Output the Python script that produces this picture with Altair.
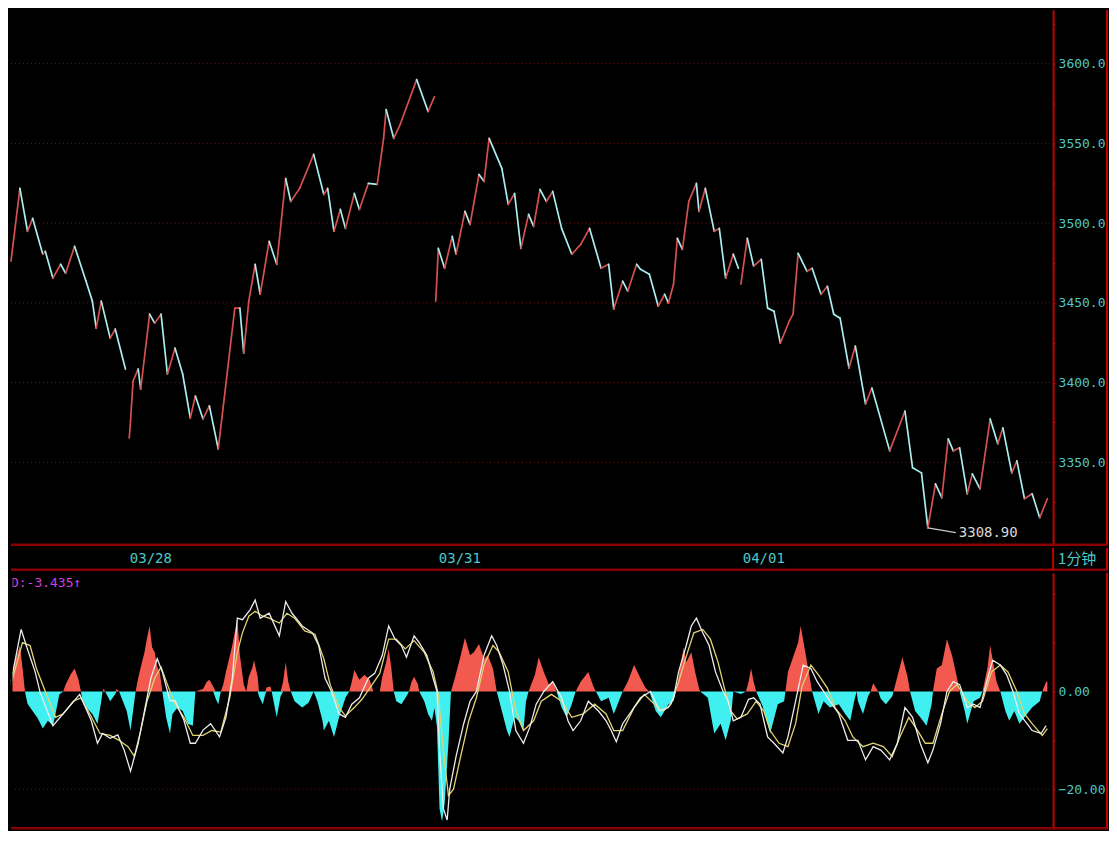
import altair as alt
import pandas as pd

# ---------------- price line (1-minute closes, read at turning points) ----------------
day_names = ["03/27", "03/28", "03/31", "04/01"]

d1_t = [0, 7, 13, 17, 25, 27, 33, 39, 43, 50, 59, 64, 67, 71, 78, 82, 90]
d1_p = [3476.1, 3521.8, 3494.9, 3503.0, 3480.5, 3482.3, 3465.5, 3474.2, 3468.6, 3485.5,
        3463.6, 3451.1, 3434.2, 3451.1, 3427.9, 3433.5, 3408.5]

d2_t = [93, 94, 96, 100, 102, 109, 113, 118, 123, 129, 135, 141, 145, 151, 156, 163, 176,
        180, 183, 187, 192, 196, 203, 209, 216, 220, 227, 238, 246, 249, 254, 259, 263, 270,
        274, 281, 288, 293, 295, 301, 306, 319, 328, 333]
d2_p = [3365.3, 3376.0, 3401.0, 3408.5, 3396.0, 3442.9, 3437.3, 3442.9, 3405.4, 3421.6,
        3405.4, 3377.8, 3391.6, 3377.2, 3385.4, 3358.4, 3446.7, 3446.7, 3418.5, 3451.1,
        3474.2, 3455.4, 3488.6, 3474.2, 3528.0, 3513.6, 3521.8, 3543.1, 3518.0, 3521.8,
        3494.9, 3508.6, 3496.7, 3518.6, 3508.6, 3524.9, 3524.3, 3553.1, 3571.2, 3553.1,
        3561.8, 3590.0, 3570.0, 3579.3]

d3_t = [334, 335, 336, 341, 347, 350, 357, 361, 368, 372, 376, 386, 391, 396, 401, 407, 411,
        416, 421, 426, 433, 441, 448, 455, 464, 470, 474, 481, 485, 492, 495, 502, 509, 514,
        517, 521, 524, 528, 533, 539, 541, 546, 553, 557, 562, 568, 572]
d3_p = [3451.1, 3466.7, 3484.2, 3471.7, 3491.7, 3480.5, 3507.4, 3499.2, 3530.5, 3526.2,
        3553.1, 3534.3, 3511.8, 3518.6, 3484.2, 3505.5, 3498.0, 3521.1, 3513.6, 3519.9,
        3496.7, 3480.5, 3486.7, 3496.7, 3471.7, 3474.2, 3446.1, 3463.6, 3457.3, 3474.2,
        3471.1, 3468.0, 3447.9, 3455.4, 3449.8, 3461.7, 3490.5, 3483.6, 3513.6, 3524.9,
        3507.4, 3521.8, 3494.9, 3496.7, 3465.5, 3480.5, 3471.7]

d4_t = [574, 579, 584, 590, 595, 600, 605, 612, 615, 619, 626, 630, 637, 642, 647, 652, 659,
        664, 672, 677, 691, 703, 709, 716, 721, 727, 732, 737, 741, 746, 752, 756, 762, 770,
        776, 780, 787, 791, 797, 803, 809, 815]
d4_p = [3461.7, 3490.5, 3473.0, 3477.3, 3446.7, 3444.8, 3424.8, 3438.5, 3442.9, 3481.1,
        3469.8, 3471.7, 3455.4, 3460.4, 3442.9, 3440.4, 3409.1, 3422.9, 3386.6, 3396.6,
        3357.2, 3382.2, 3346.6, 3343.4, 3308.9, 3336.5, 3327.8, 3364.7, 3357.2, 3359.1,
        3330.3, 3342.8, 3333.4, 3377.2, 3361.6, 3371.6, 3343.4, 3350.9, 3327.2, 3330.3,
        3315.3, 3327.2]

price_levels = [3350, 3400, 3450, 3500, 3550, 3600]
date_labels = ["03/28", "03/31", "04/01"]
date_label_t = [110, 353, 592]

# ---------------- MACD panel ----------------
hist_t = [0, 3, 7, 9, 11, 13, 17, 21, 25, 29, 33, 35, 38, 41, 43, 47, 50, 53, 55, 56, 60, 64,
          68, 71, 72, 73, 74, 76, 78, 82, 83, 85, 88, 91, 94, 96, 98, 100, 103, 105, 107, 109,
          111, 113, 115, 117, 119, 122, 125, 127, 131, 135, 139, 143, 145, 151, 154, 156, 159,
          161, 163, 165, 167, 169, 174, 178, 180, 183, 185, 187, 190, 191, 194, 195, 198, 200,
          201, 204, 205, 208, 209, 212, 214, 216, 218, 220, 223, 229, 234, 238, 241, 245, 246,
          250, 254, 258, 263, 266, 268, 270, 274, 278, 282, 285, 290, 292, 295, 297, 299, 301,
          303, 307, 311, 313, 315, 317, 320, 321, 325, 328, 331, 333, 335, 337, 339, 341, 344,
          346, 349, 353, 357, 361, 364, 368, 372, 375, 379, 382, 386, 390, 392, 396, 399, 403,
          405, 407, 412, 415, 419, 423, 426, 429, 433, 437, 441, 444, 448, 454, 458, 460, 464,
          470, 474, 478, 481, 485, 490, 495, 499, 502, 507, 511, 517, 521, 523, 525, 529, 531,
          535, 538, 541, 542, 548, 553, 558, 562, 566, 568, 574, 578, 580, 582, 584, 586, 591,
          595, 597, 603, 608, 609, 611, 615, 619, 621, 626, 630, 635, 639, 644, 651, 656, 660,
          663, 665, 666, 670, 674, 676, 678, 682, 684, 688, 693, 694, 697, 701, 705, 707, 711,
          715, 720, 724, 725, 728, 732, 736, 740, 744, 746, 750, 752, 757, 762, 764, 768, 770,
          775, 778, 782, 785, 789, 793, 799, 803, 809, 811, 814, 815]
hist_v = [2, 6, 9.4, 5, 0, -2.5, -4, -5.5, -7.6, -6, -7, -4.6, -0.6, 0, 1.4, 3.5, 4.7, 2.5, 0,
          -1.5, -3.5, -4.6, -6.6, -2, 0, 0.6, 0, -1, -2, -0.5, 0.5, 0, -2, -4, -8, -4, 0, 2.7,
          6, 8, 11, 13.4, 9, 8, 5, 4, 0, -5.3, -8.6, -4.6, -3.3, -4, -6.6, -7, 0, 0.5, 2, 2.4,
          1, -1.5, -2.6, 0, 1.5, 4, 9.4, 15, 7.4, 1.5, 0, 3, 5, 6.4, 3, -1, -2.6, -0.5, 0.8,
          1, 0, -4, -5.3, -1, 2, 6, 2, 0, -2, -3.3, -2.3, 0, -2, -6, -8, -6, -9.3, -5.3, -1.3,
          0, 2, 4.4, 2.4, 3.4, 2.4, 0, 0, 3, 6, 8.7, 5, 0, -2, -2.6, -1, 0, 2, 3, 1.5, 0, -2,
          -4.6, -6, -3.4, -7.3, -24, -26.6, -23, -10.6, 0, 2.7, 6.7, 11, 7.4, 8, 9.7, 6.7, 7.4,
          4.7, 0, -4, -8, -9.3, -5.3, -6, -8, -2, 0, 3.4, 7, 4, 1.4, 2, 0, -3.3, -5.3, -2.6, 0,
          2, 4, 1, 0, -2, -1.3, -4.6, -2, 0, 2, 5.4, 2.7, 0.7, 0, -4, -5.3, -2.6, -2, 0, 3, 9,
          6, 8, 4, 0.7, 0, -1.3, -8.6, -6.6, -10, -6, 0, -0.5, 0, 2, 4.7, 2, 0, -3, -6.6, -8.6,
          -2.6, -2, 0, 4, 7, 10, 13.4, 6, 0, -4.6, -2, -3.3, -2.6, -4.6, -6, -2, 0, -2, -4.6,
          -1, 0, 1.7, 0, -1.5, -2.6, -1, 0, 3, 7, 3, 0, -4, -5.3, -7, -2.6, 0, 4.7, 5.4, 10.7,
          7.4, 2.7, 0, -4, -6.6, -2, -1.3, 0, 5, 9.4, 2, 0, -4, -6, -4, -6.6, -4.6, -3.3, -2, 0,
          2, 2]

dif_t = [0, 8, 12, 19, 23, 33, 54, 63, 68, 72, 78, 84, 89, 94, 100, 105, 110, 115, 119, 125,
         129, 136, 141, 145, 151, 157, 164, 169, 174, 178, 182, 188, 192, 196, 203, 211, 216,
         221, 229, 237, 242, 247, 252, 258, 263, 268, 274, 281, 286, 292, 297, 302, 307, 311,
         317, 321, 327, 332, 335, 337, 340, 343, 345, 350, 356, 361, 366, 372, 378, 382, 387,
         392, 397, 403, 408, 413, 419, 426, 433, 438, 442, 448, 454, 462, 468, 472, 476, 481,
         488, 495, 503, 510, 517, 521, 525, 531, 535, 539, 544, 549, 554, 560, 564, 568, 574,
         580, 584, 589, 595, 600, 607, 611, 617, 623, 629, 634, 639, 644, 651, 658, 666, 672,
         678, 684, 691, 697, 703, 709, 715, 721, 725, 731, 736, 741, 746, 752, 757, 762, 768,
         772, 778, 783, 788, 793, 799, 803, 810, 814]
dif_v = [2, 12.7, 9.4, 4, -0.3, -7, -0.6, -5.9, -10.6, -8.6, -9.6, -8.9, -12, -16.3, -10.6,
         -3.9, 2.7, 6.7, 4, -1.9, -1.9, -5.9, -10.6, -10.6, -7.9, -6.6, -9.3, -5.3, 2.7, 15,
         14.7, 16.7, 18.7, 15, 16, 11.4, 18.4, 16, 13.4, 12, 9.4, 2.7, 0, -4.6, -5.3, -2.6,
         -1.3, 2.7, 3.7, 7.4, 13.4, 10.7, 9.4, 7, 11.4, 10, 7.4, 2.7, 0, -12, -24, -26.3, -20,
         -13.3, -6.6, -2, 0, 7.4, 11.4, 9.4, 5.4, 0, -8, -10.6, -7.3, -2.6, 0, 2, -1.3, -6,
         -8, -6, -2, -4, -6, -8, -10.3, -6.6, -4, -1.3, 0, -4, -3.3, -1.3, 4, 9.4, 13.4, 15,
         12, 9.4, 4, 0, -2, -6, -5.3, -1.6, -1.3, -2.6, -9.3, -10.6, -12.6, -9.3, -2, 5.4, 4.7,
         2, 0, -2, -4.6, -10, -10, -14, -11.3, -12, -14, -10.6, -3.3, -5.3, -10.6, -14.6, -12,
         -6.6, 0, 2, 1.4, -3.3, -2.6, -3.3, 2.7, 6.4, 5.4, 3.4, 0, -4.6, -6.6, -8, -8.6, -7]

dea_t = [0, 9, 15, 20, 27, 35, 41, 49, 55, 62, 70, 78, 85, 92, 97, 102, 107, 113, 118, 123,
         129, 136, 143, 151, 158, 165, 172, 178, 182, 187, 192, 198, 203, 211, 217, 223, 231,
         239, 246, 251, 258, 263, 270, 276, 284, 290, 297, 303, 310, 317, 325, 332, 336, 340,
         344, 348, 353, 360, 366, 372, 379, 384, 391, 397, 403, 411, 417, 425, 433, 441, 450,
         459, 468, 474, 481, 490, 498, 506, 513, 519, 525, 532, 537, 544, 550, 556, 561, 566,
         571, 579, 586, 592, 597, 604, 611, 617, 622, 629, 635, 642, 648, 656, 662, 670, 678,
         686, 693, 699, 706, 713, 719, 725, 732, 738, 744, 752, 758, 764, 771, 778, 784, 791,
         797, 803, 811, 815]
dea_v = [1.4, 10, 9.4, 4.7, 0, -5.3, -4.6, -2, -1.3, -4.6, -8.6, -9, -10, -11.3, -13.3, -8,
         -2, 2.7, 5, 1.4, -2.6, -5.3, -9, -9, -8, -8.3, -1.3, 8, 12, 15.4, 16.4, 15.4, 15, 14,
         16, 15, 12.4, 11.7, 6.7, 1.4, -3.3, -5, -3.3, -1.6, 1.4, 3.7, 10.7, 10.7, 8.7, 10.4,
         8, 4, -0.6, -12, -21.3, -20, -14, -6, -1.3, 5.4, 9.4, 8, 4, -4, -8, -6, -2, -0.6, -2,
         -5.3, -4.6, -2.6, -4.6, -8, -8, -3.3, -0.6, -2.6, -4, -2.6, 2, 8, 12, 12.7, 10.7, 6,
         0.7, -4, -5.6, -4.6, -2, -4, -8, -10.6, -11.3, -6.6, 1, 5.4, 3.4, 0.7, -3.3, -6,
         -9.3, -11.3, -10.6, -11.3, -13.3, -9.3, -5.3, -8, -10.6, -10.6, -4.6, 0, 1.4, -2,
         -3.3, -2, 4, 5.4, 4, 0, -4.6, -6.6, -9, -7.6]

macd_levels = [-20]
macd_readout = "D:-3.435↑"

# ---------------- layout / style ----------------
W = 1099            # full panel width (plot + right scale column)
PLOT_W = 1044       # part of the panel used by the data
H_TOP, H_STRIP, H_BOT = 537, 23, 257
T_END = 819.5
X_MAX = T_END * W / PLOT_W
FRAME = "#c40000"
SEP = "#8a0000"
GRID = "#6e1414"
LABEL = "#4cc8c8"
MONO = "DejaVu Sans Mono"

# ---------------- tables ----------------
rows = []
for name, ts, ps in zip(day_names, [d1_t, d2_t, d3_t, d4_t], [d1_p, d2_p, d3_p, d4_p]):
    rows += [{"day": name, "t": t, "p": p} for t, p in zip(ts, ps)]
price_df = pd.DataFrame(rows)
hist_df = pd.DataFrame({"t": hist_t, "v": hist_v})
hist_df["pos"] = hist_df["v"].clip(lower=0)
hist_df["neg"] = hist_df["v"].clip(upper=0)
hist_df["zero"] = 0.0
dif_df = pd.DataFrame({"t": dif_t, "v": dif_v})
dea_df = pd.DataFrame({"t": dea_t, "v": dea_v})
plevel_df = pd.DataFrame({"level": price_levels, "x0": 0.0, "x1": T_END})
mlevel_df = pd.DataFrame({"level": macd_levels, "x0": 0.0, "x1": T_END})
dates_df = pd.DataFrame({"label": date_labels, "t": date_label_t})
one_df = pd.DataFrame({"k": [1]})

xs = alt.Scale(domain=[0, X_MAX], nice=False, zero=False)


def X(f):
    return alt.X(f, scale=xs, axis=None)


def right_axis(values, expr):
    return alt.Axis(orient="right", offset=-(W - PLOT_W), values=values, labelExpr=expr,
                    grid=False, domainColor=FRAME, domainWidth=2, tickColor=FRAME,
                    tickSize=2, labelPadding=3, labelColor=LABEL, labelFont=MONO,
                    labelFontSize=13, labelAlign="left", labelBaseline="middle",
                    title=None)


py_scale = alt.Scale(domain=[3297.7, 3633.8], nice=False, zero=False)
p_axis = right_axis(list(range(3325, 3626, 25)),
                    "datum.value % 50 == 0 ? format(datum.value, '.1f') : ''")
my_scale = alt.Scale(domain=[-28.2, 24.3], nice=False, zero=False)
m_axis = right_axis([-20, -10, 0, 10, 20],
                    "datum.value == 0 || datum.value == -20 ? format(datum.value, '.2f') : ''")


def frame_layers(height, vertical_axis_line=False, cover_left=False):
    layers = [
        alt.Chart(one_df).mark_rule(color=FRAME, strokeWidth=2).encode(
            x=alt.value(W - 1), y=alt.value(0), y2=alt.value(height)),
    ]
    if cover_left:
        layers.append(alt.Chart(one_df).mark_rule(color="black", strokeWidth=2).encode(
            x=alt.value(0.5), y=alt.value(0), y2=alt.value(height)))
    layers.append(alt.Chart(one_df).mark_rule(color=SEP, strokeWidth=2.5).encode(
        y=alt.value(height - 1), x=alt.value(0), x2=alt.value(W - 1)))
    if vertical_axis_line:
        layers.append(alt.Chart(one_df).mark_rule(color=FRAME, strokeWidth=2).encode(
            x=alt.value(PLOT_W), y=alt.value(0), y2=alt.value(height)))
    return layers


# ---------------- top panel: price ----------------
grid_top = alt.Chart(plevel_df).mark_rule(color=GRID, strokeDash=[1, 3], strokeWidth=1).encode(
    y=alt.Y("level:Q", scale=py_scale, axis=p_axis),
    x=X("x0:Q"), x2="x1:Q")

segments = alt.Chart(price_df).transform_window(
    t2="lead(t)", p2="lead(p)", groupby=["day"], sort=[alt.SortField("t")]
).transform_filter("isValid(datum.t2)").transform_calculate(
    move="datum.p2 >= datum.p ? 'up' : 'down'"
).mark_rule(strokeWidth=1.7, strokeCap="round").encode(
    x=X("t:Q"), x2="t2:Q",
    y=alt.Y("p:Q", scale=py_scale, axis=p_axis), y2="p2:Q",
    color=alt.Color("move:N", scale=alt.Scale(domain=["up", "down"],
                                              range=["#d65050", "#a8eeee"]), legend=None))

low_base = alt.Chart(price_df).transform_joinaggregate(
    pmin="min(p)").transform_filter("datum.p == datum.pmin").transform_calculate(
    tl="datum.t + 22", pl="datum.p - 3", txt="format(datum.p, '.2f')")

low_leader = low_base.mark_rule(color="#c8c8c8", strokeWidth=1.2).encode(
    x=X("t:Q"), x2="tl:Q", y=alt.Y("p:Q", scale=py_scale, axis=p_axis), y2="pl:Q")
low_text = low_base.mark_text(align="left", baseline="middle", dx=3, font=MONO,
                              fontSize=14, color="#d8d8d8").encode(
    x=X("tl:Q"), y=alt.Y("pl:Q", scale=py_scale, axis=p_axis), text="txt:N")

top = alt.layer(grid_top, segments, low_leader, low_text,
                *frame_layers(H_TOP)).properties(width=W, height=H_TOP)

# ---------------- date strip ----------------
date_text = alt.Chart(dates_df).mark_text(align="center", baseline="middle", font=MONO,
                                          fontSize=14, color=LABEL).encode(
    x=X("t:Q"), y=alt.value(H_STRIP / 2), text="label:N")
period_text = alt.Chart(one_df).mark_text(align="left", baseline="middle",
                                          font="Noto Sans CJK SC", fontSize=15,
                                          color=LABEL, text="1分钟").encode(
    x=alt.value(PLOT_W + 5), y=alt.value(H_STRIP / 2))
strip = alt.layer(date_text, period_text,
                  *frame_layers(H_STRIP, vertical_axis_line=True, cover_left=True)).properties(
    width=W, height=H_STRIP)

# ---------------- bottom panel: MACD ----------------
grid_bot = alt.Chart(mlevel_df).mark_rule(color=GRID, strokeDash=[1, 3], strokeWidth=1).encode(
    y=alt.Y("level:Q", scale=my_scale, axis=m_axis),
    x=X("x0:Q"), x2="x1:Q")

hist_pos = alt.Chart(hist_df).mark_area(color="#f25a50", interpolate="linear").encode(
    x=X("t:Q"), y=alt.Y("pos:Q", scale=my_scale, axis=m_axis), y2="zero:Q")
hist_neg = alt.Chart(hist_df).mark_area(color="#40f0f0", interpolate="linear").encode(
    x=X("t:Q"), y=alt.Y("neg:Q", scale=my_scale, axis=m_axis), y2="zero:Q")

dea_line = alt.Chart(dea_df).mark_line(color="#e0d470", strokeWidth=1.3).encode(
    x=X("t:Q"), y=alt.Y("v:Q", scale=my_scale, axis=m_axis))
dif_line = alt.Chart(dif_df).mark_line(color="#ececec", strokeWidth=1.3).encode(
    x=X("t:Q"), y=alt.Y("v:Q", scale=my_scale, axis=m_axis))

readout = alt.Chart(one_df).mark_text(align="left", baseline="middle", font=MONO,
                                      fontSize=13, color="#d040e0",
                                      text=macd_readout).encode(
    x=alt.value(0), y=alt.value(10))

bottom = alt.layer(grid_bot, hist_pos, hist_neg, dea_line, dif_line, readout,
                   *frame_layers(H_BOT, cover_left=True)).properties(width=W, height=H_BOT)

chart = alt.vconcat(top, strip, bottom, spacing=0).properties(
    padding=0, background="black"
).configure_view(stroke="transparent", strokeWidth=0, fill="black")

chart.save("out.html", embed_options={"renderer": "svg", "actions": False})
